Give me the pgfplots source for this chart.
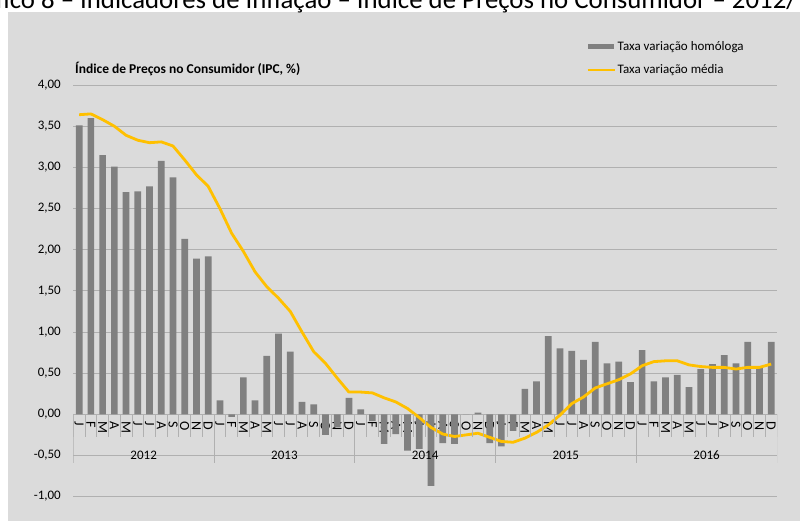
\documentclass[border=0pt]{standalone}
\usepackage{pgfplots}
\pgfplotsset{compat=1.18}
\usepackage{pgfplotstable}
\usepackage{fontspec}
\setmainfont{Carlito}
\definecolor{bggray}{HTML}{DBDBDB}
\definecolor{bargray}{HTML}{808080}
\definecolor{gold}{HTML}{FFC000}
\definecolor{gridgray}{HTML}{B0B0B0}

% x = mes (0 = Jan 2012), bar = taxa homologa, avg = taxa media
\pgfplotstableread{
x bar avg
0 3.51 3.64
1 3.60 3.65
2 3.15 3.58
3 3.01 3.50
4 2.70 3.39
5 2.71 3.33
6 2.77 3.30
7 3.08 3.31
8 2.88 3.26
9 2.13 3.09
10 1.89 2.91
11 1.92 2.77
12 0.17 2.50
13 -0.03 2.20
14 0.45 1.98
15 0.17 1.73
16 0.71 1.55
17 0.98 1.41
18 0.76 1.25
19 0.15 1.00
20 0.12 0.76
21 -0.25 0.62
22 -0.16 0.44
23 0.20 0.27
24 0.06 0.27
25 -0.08 0.26
26 -0.36 0.20
27 -0.24 0.15
28 -0.44 0.07
29 -0.42 -0.04
30 -0.87 -0.16
31 -0.35 -0.24
32 -0.36 -0.27
33 0.00 -0.25
34 0.02 -0.23
35 -0.35 -0.28
36 -0.39 -0.33
37 -0.20 -0.34
38 0.31 -0.29
39 0.40 -0.22
40 0.95 -0.13
41 0.80 -0.01
42 0.77 0.13
43 0.66 0.21
44 0.88 0.32
45 0.62 0.37
46 0.64 0.42
47 0.39 0.49
48 0.78 0.59
49 0.40 0.64
50 0.45 0.65
51 0.48 0.65
52 0.33 0.60
53 0.55 0.58
54 0.61 0.57
55 0.72 0.57
56 0.62 0.55
57 0.88 0.57
58 0.56 0.57
59 0.88 0.61
}\ipcdata

\newcommand{\lbl}{\fontsize{13bp}{15bp}\selectfont}
\newcommand{\m}[1]{\rotatebox{-90}{\kern4bp #1}}

\begin{document}
\begin{tikzpicture}[x=1bp,y=1bp]
\path[use as bounding box] (0,0) rectangle (800,521);
\fill[bggray] (8,0) rectangle (800,509);
\node[anchor=base east, inner sep=0pt, font=\fontsize{26.8bp}{30bp}\selectfont] at (797,512)
  {Gráfico 8 – Indicadores de Inflação – Índice de Preços no Consumidor – 2012/};
\node[anchor=base west, inner sep=0pt, font=\fontsize{13.5bp}{16bp}\selectfont\bfseries] at (75,447)
  {Índice de Preços no Consumidor (IPC, \%)};
\begin{axis}[
  at={(73.3bp,24.4bp)}, anchor=south west,
  scale only axis, width=703.7bp, height=411.5bp,
  xmin=-0.5, xmax=59.5, ymin=-1, ymax=4,
  axis x line*=middle, axis y line*=left,
  y axis line style={draw=none},
  x axis line style={draw=gridgray, line width=0.8bp},
  ytick={-1,-0.5,0,0.5,1,1.5,2,2.5,3,3.5,4},
  ymajorgrids, major grid style={draw=gridgray, line width=0.8bp},
  major tick length=0pt,
  yticklabel style={font=\lbl, xshift=-9bp},
  /pgf/number format/.cd, fixed, fixed zerofill, precision=2, use comma, assume math mode=true,
  /pgfplots/.cd,
  xtick={0,...,59},
  xticklabels={\m{J},\m{F},\m{M},\m{A},\m{M},\m{J},\m{J},\m{A},\m{S},\m{O},\m{N},\m{D},
               \m{J},\m{F},\m{M},\m{A},\m{M},\m{J},\m{J},\m{A},\m{S},\m{O},\m{N},\m{D},
               \m{J},\m{F},\m{M},\m{A},\m{M},\m{J},\m{J},\m{A},\m{S},\m{O},\m{N},\m{D},
               \m{J},\m{F},\m{M},\m{A},\m{M},\m{J},\m{J},\m{A},\m{S},\m{O},\m{N},\m{D},
               \m{J},\m{F},\m{M},\m{A},\m{M},\m{J},\m{J},\m{A},\m{S},\m{O},\m{N},\m{D}},
  xticklabel style={anchor=north, font=\fontsize{14bp}{16bp}\selectfont},
  legend style={at={(0.7296,1.112)}, anchor=north west, draw=none, fill=none,
    inner sep=0pt, outer sep=0pt, font=\lbl, row sep=9bp},
  legend cell align=left,
]
\addplot[ybar, bar width=6.7bp, fill=bargray, draw=none,
  legend image code/.code={\fill[bargray] (0bp,-2.7bp) rectangle (26.7bp,2.7bp);}]
  table[x=x, y=bar] {\ipcdata};
\addlegendentry{Taxa variação homóloga}
\addplot[gold, line width=2.8bp, line join=round, mark=none,
  legend image code/.code={\draw[gold, line width=2bp] (0bp,0bp) -- (27bp,0bp);}]
  table[x=x, y=avg] {\ipcdata};
\addlegendentry{Taxa variação média}
% separadores dos meses e dos anos
\pgfplotsinvokeforeach{0,...,60}{\draw[gridgray, line width=0.8bp] (axis cs:#1-0.5,0) -- (axis cs:#1-0.5,-0.275);}
\pgfplotsinvokeforeach{0,12,24,36,48,60}{\draw[gridgray, line width=0.8bp] (axis cs:#1-0.5,0) -- (axis cs:#1-0.5,-0.59);}
\node[font=\lbl] at (axis cs:5.5,-0.495) {2012};
\node[font=\lbl] at (axis cs:17.5,-0.495) {2013};
\node[font=\lbl] at (axis cs:29.5,-0.495) {2014};
\node[font=\lbl] at (axis cs:41.5,-0.495) {2015};
\node[font=\lbl] at (axis cs:53.5,-0.495) {2016};
\end{axis}
\end{tikzpicture}
\end{document}
